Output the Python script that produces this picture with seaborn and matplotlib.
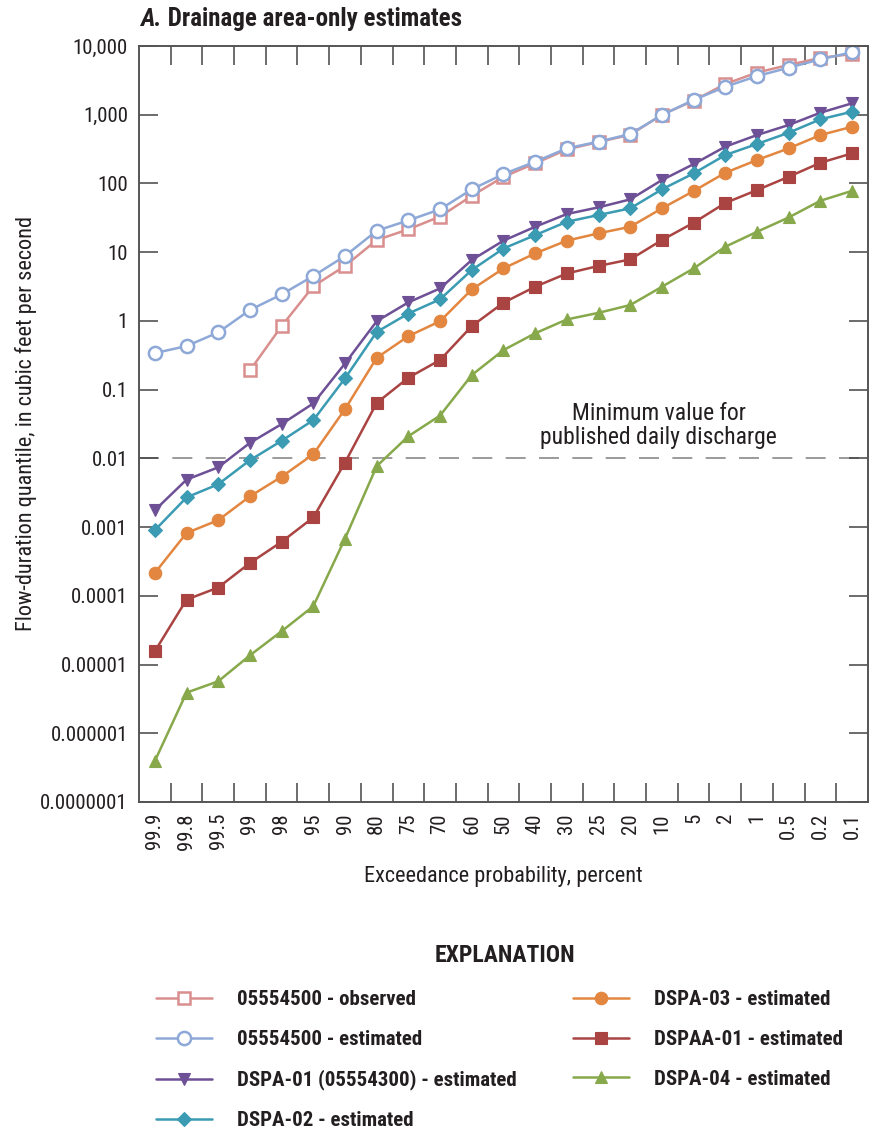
import numpy as np
import pandas as pd
import seaborn as sns
import matplotlib.pyplot as plt
from matplotlib import font_manager
from matplotlib.ticker import FixedLocator, NullLocator
from matplotlib.transforms import blended_transform_factory

# Exceedance probability categories (percent), equally spaced on the axis
exceedance = ["99.9", "99.8", "99.5", "99", "98", "95", "90", "80", "75", "70", "60",
              "50", "40", "30", "25", "20", "10", "5", "2", "1", "0.5", "0.2", "0.1"]

# Flow-duration quantiles, cubic feet per second (None = not reported)
obs_05554500 = [None, None, None, 0.19, 0.84, 3.2, 6.3, 15, 21.5, 33, 66,
                125, 196, 313, 400, 510, 1000, 1600, 2800, 4100, 5300, 6700, 7650]
est_05554500 = [0.34, 0.43, 0.68, 1.44, 2.43, 4.5, 8.8, 20.5, 29, 42, 82,
                137, 207, 324, 405, 524, 990, 1640, 2550, 3650, 4830, 6400, 8100]
dspa_01 = [0.00176, 0.0049, 0.0074, 0.0168, 0.0315, 0.063, 0.24, 0.99, 1.86, 2.97, 7.7,
           14.7, 23.4, 35.9, 44.9, 58.6, 112, 191, 343, 506, 708, 1070, 1465]
dspa_02 = [0.0009, 0.0027, 0.0042, 0.0094, 0.018, 0.036, 0.146, 0.69, 1.28, 2.06, 5.5,
           11.3, 17.7, 27.7, 34.7, 43.4, 82, 140, 259, 375, 547, 857, 1107]
dspa_03 = [0.000215, 0.00082, 0.00126, 0.0028, 0.0054, 0.0115, 0.052, 0.29, 0.60, 0.99, 2.87,
           5.8, 9.6, 14.7, 18.8, 23.4, 43.4, 77.5, 143, 219, 324, 506, 668]
dspaa_01 = [1.56e-5, 8.8e-5, 1.32e-4, 3.0e-4, 6.1e-4, 0.00138, 0.0087, 0.064, 0.149, 0.27, 0.84,
            1.84, 3.14, 4.9, 6.3, 7.85, 15.0, 26.8, 52, 80, 125, 200, 274]
dspa_04 = [3.95e-7, 3.9e-6, 5.7e-6, 1.36e-5, 3.05e-5, 7.06e-5, 6.8e-4, 0.0077, 0.021, 0.042, 0.163,
           0.376, 0.66, 1.05, 1.31, 1.70, 3.14, 5.8, 12, 19.8, 32, 56, 78]

min_published = 0.01

y_ticks = [1e-7, 1e-6, 1e-5, 1e-4, 1e-3, 1e-2, 1e-1, 1, 10, 100, 1000, 10000]
y_tick_labels = ["0.0000001", "0.000001", "0.00001", "0.0001", "0.001", "0.01",
                 "0.1", "1", "10", "100", "1,000", "10,000"]

series = [
    ("05554500 - observed", obs_05554500, "#d98f8e", "s", True),
    ("05554500 - estimated", est_05554500, "#8ea9d8", "o", True),
    ("DSPA-01 (05554300) - estimated", dspa_01, "#6e5096", "v", False),
    ("DSPA-02 - estimated", dspa_02, "#3a9bb3", "D", False),
    ("DSPA-03 - estimated", dspa_03, "#e28640", "o", False),
    ("DSPAA-01 - estimated", dspaa_01, "#a94442", "s", False),
    ("DSPA-04 - estimated", dspa_04, "#87a94b", "^", False),
]


def pick_font():
    # the original uses a condensed face; take one if the machine has it
    fonts = font_manager.fontManager.ttflist
    names = {f.name for f in fonts}
    for fam in ["Liberation Sans Narrow", "Roboto Condensed", "Open Sans Condensed",
                "Noto Sans Condensed", "DejaVu Sans Condensed"]:
        if fam in names:
            return fam, None, True
    for fam in ["Noto Sans", "Open Sans", "DejaVu Sans"]:
        if any(f.name == fam and f.stretch in ("condensed", "semi-condensed", 500 - 125, 625)
               for f in fonts):
            return fam, "condensed", True
    return "Liberation Sans", None, False


sns.set_style("ticks")
family, stretch, condensed = pick_font()
plt.rcParams["font.family"] = [family, "DejaVu Sans"]
if stretch:
    plt.rcParams["font.stretch"] = stretch
scale = 1.0 if condensed else 0.86
text_color = "#231f20"

fig = plt.figure(figsize=(8.77, 11.35), dpi=100)
ax = fig.add_axes([0.1585, 0.2934, 0.9897 - 0.1585, 0.9595 - 0.2934])

pos = np.arange(len(exceedance))
handles = []
for label, values, color, marker, hollow in series:
    df = pd.DataFrame({"pos": pos, "q": pd.to_numeric(pd.Series(values), errors="coerce")}).dropna()
    ms = {"o": 9.5 if hollow else 9, "s": 9.2 if hollow else 8.7, "D": 7.5, "v": 9, "^": 9}[marker]
    sns.lineplot(data=df, x="pos", y="q", ax=ax, color=color, lw=1.8,
                 marker=marker, markersize=ms,
                 markerfacecolor="white" if hollow else color,
                 markeredgecolor=color, markeredgewidth=1.8 if hollow else 0.8,
                 label=label, legend=False)
    handles.append(ax.lines[-1])

ax.axhline(min_published, color="#8a8a8a", lw=1.2, dashes=(12, 8), zorder=0)
trans = blended_transform_factory(ax.transAxes, ax.transData)
ax.text(0.713, 0.0135, "Minimum value for\npublished daily discharge", transform=trans,
        ha="center", va="bottom", fontsize=17 * scale, color=text_color, linespacing=1.1)

ax.set_yscale("log")
ax.set_ylim(1e-7, 1e4)
ax.set_xlim(-0.5, len(exceedance) - 0.5)

ax.yaxis.set_major_locator(FixedLocator(y_ticks))
ax.yaxis.set_minor_locator(NullLocator())
ax.set_yticks(y_ticks)
ax.set_yticklabels(y_tick_labels)
ax.set_xticks(pos)
ax.set_xticklabels(exceedance, rotation=90)
ax.set_xticks(np.arange(0.5, len(exceedance) - 1, 1.0), minor=True)

ax.tick_params(axis="x", which="major", length=0, pad=8, labelsize=15 * scale,
               labelcolor=text_color)
ax.tick_params(axis="x", which="minor", direction="in", length=14, width=1.1,
               color="#444444", top=True, bottom=True)
ax.tick_params(axis="y", which="major", direction="in", length=14, width=1.1,
               color="#444444", left=True, right=True, labelsize=15 * scale, pad=8,
               labelcolor=text_color)
for side in ["left", "right", "top", "bottom"]:
    ax.spines[side].set_visible(True)
    ax.spines[side].set_color("#555555")
    ax.spines[side].set_linewidth(1.4)

ax.set_xlabel("Exceedance probability, percent", fontsize=16 * scale, color=text_color,
              labelpad=12)
ax.set_ylabel("Flow-duration quantile, in cubic feet per second", fontsize=16 * scale,
              color=text_color)
ax.yaxis.set_label_coords(-0.14, 0.5)

t1 = fig.text(140 / 877, 1 - 26 / 1135, "A.", fontsize=18 * scale, fontweight="bold",
              fontstyle="italic", color=text_color, va="baseline")
ax.annotate(" Drainage area-only estimates", xy=(1, 0), xycoords=t1, va="bottom",
            fontsize=18 * scale, fontweight="bold", color=text_color)

fig.text(505 / 877, 1 - 955 / 1135, "EXPLANATION", fontsize=17 * scale, fontweight="bold",
         color=text_color, ha="center", va="center")

leg_kw = dict(frameon=False, handlelength=2.7, handletextpad=1.2, labelspacing=1.0,
              prop={"weight": "bold", "size": 15 * scale}, labelcolor=text_color,
              borderaxespad=0, borderpad=0)
leg1 = fig.legend(handles[:4], [s[0] for s in series[:4]], loc="upper left",
                  bbox_to_anchor=(156 / 877, 1 - 990 / 1135), **leg_kw)
right_x = 573 if condensed else 560
leg2 = fig.legend(handles[4:], [s[0] for s in series[4:]], loc="upper left",
                  bbox_to_anchor=(right_x / 877, 1 - 990 / 1135), **leg_kw)

fig.savefig("out.png", dpi=100)
